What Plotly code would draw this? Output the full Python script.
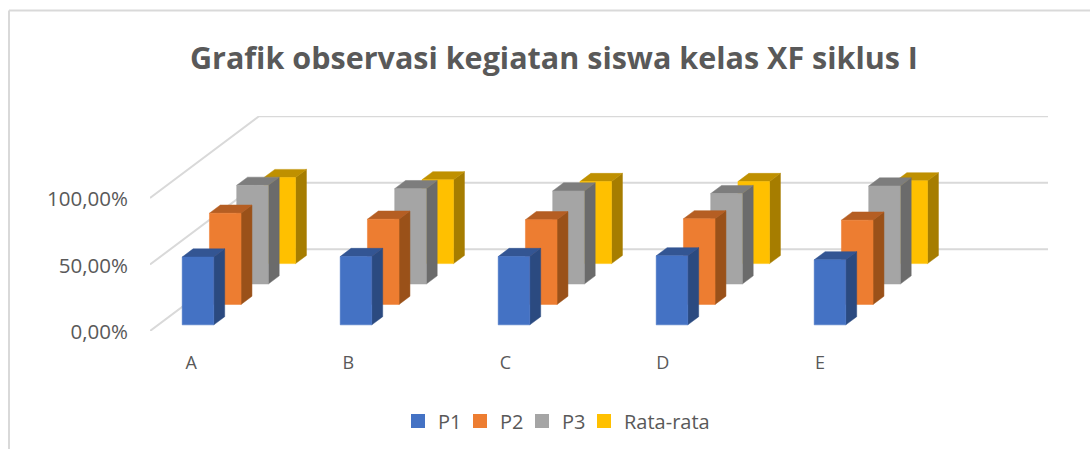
import plotly.graph_objects as go

categories = ["A", "B", "C", "D", "E"]
p1 = [51.0, 51.4, 51.4, 51.9, 48.9]
p2 = [68.6, 64.1, 63.7, 64.4, 63.4]
p3 = [74.2, 71.7, 70.0, 68.0, 73.7]
rata = [64.7, 63.0, 61.7, 61.7, 62.2]
series_names = ["P1", "P2", "P3", "Rata-rata"]
legend_widths = [17, 17, 17, 95]
y_ticks = [0, 50, 100]
y_labels = ["0,00%", "50,00%", "100,00%"]

series_values = [p1, p2, p3, rata]
front = ["#4472C4", "#ED7D31", "#A5A5A5", "#FFC000"]
side = ["#2B4A80", "#9A5119", "#6B6B6B", "#A67D00"]
top = ["#335593", "#B55E23", "#7D7D7D", "#BF9000"]

# oblique projection: depth 0..1 shifts x (category units) and y (percent units)
DX, DY = 109 / 158, 81.7 / 1.33
BAR_W, BIN_D, BAR_D, BAR_X0 = 0.2, 0.25, 0.1, 0.152
X_END = 898 / 158


def proj(x, v, d):
    return x + DX * d, v + DY * d


def poly(corners):
    xs, ys = [], []
    for x, v, d in corners:
        px, py = proj(x, v, d)
        xs.append(px)
        ys.append(py)
    xs.append(xs[0])
    ys.append(ys[0])
    return xs + [None], ys + [None]


fig = go.Figure()

gx, gy = [], []
for t in y_ticks:
    px, py = proj(0, t, 0)
    bx, by = proj(0, t, 1)
    gx += [px, bx, X_END, None]
    gy += [py, by, by, None]
fig.add_trace(go.Scatter(x=gx, y=gy, mode="lines", line=dict(color="#D9D9D9", width=2),
                         showlegend=False, hoverinfo="skip", cliponaxis=False))

for s in reversed(range(4)):
    d0 = s * BIN_D + (BIN_D - BAR_D) / 2
    d1 = d0 + BAR_D
    faces = {"f": ([], []), "s": ([], []), "t": ([], [])}
    for c, v in enumerate(series_values[s]):
        x0 = c + BAR_X0
        x1 = x0 + BAR_W
        for key, corners in (
            ("f", [(x0, 0, d0), (x1, 0, d0), (x1, v, d0), (x0, v, d0)]),
            ("s", [(x1, 0, d0), (x1, 0, d1), (x1, v, d1), (x1, v, d0)]),
            ("t", [(x0, v, d0), (x1, v, d0), (x1, v, d1), (x0, v, d1)]),
        ):
            xs, ys = poly(corners)
            faces[key][0].extend(xs)
            faces[key][1].extend(ys)
    for key, col in (("s", side[s]), ("t", top[s]), ("f", front[s])):
        fig.add_trace(go.Scatter(x=faces[key][0], y=faces[key][1], mode="lines", fill="toself",
                                 fillcolor=col, line=dict(color=col, width=0.5),
                                 showlegend=False, hoverinfo="skip"))

for s, name in enumerate(series_names):
    fig.add_trace(go.Scatter(x=[None], y=[None], mode="markers", name=name,
                             legendwidth=legend_widths[s],
                             marker=dict(symbol="square", size=14, color=front[s])))

FONT = "Open Sans"
fig.update_layout(
    width=1090, height=449, autosize=False,
    margin=dict(l=150, r=42, t=116, b=118, pad=0),
    paper_bgcolor="white", plot_bgcolor="white",
    font=dict(family=FONT, color="#595959", size=18),
    title=dict(text="<b>Grafik observasi kegiatan siswa kelas XF siklus I</b>",
               font=dict(family=FONT, size=30.5, color="#595959"),
               x=554 / 1090, xanchor="center", y=1 - 58 / 449, yanchor="middle"),
    xaxis=dict(range=[0, X_END], tickvals=[0.26 + i * 0.995 for i in range(5)], ticktext=categories,
               showgrid=False, zeroline=False, showline=False, ticks="outside", ticklen=15,
               tickcolor="rgba(0,0,0,0)", tickfont=dict(size=18), fixedrange=True),
    yaxis=dict(range=[0, 215 / 1.33], tickvals=y_ticks, ticktext=y_labels,
               showgrid=False, zeroline=False, showline=False, ticks="outside", ticklen=17,
               ticklabelshift=1,
               tickcolor="rgba(0,0,0,0)", tickfont=dict(size=20.5), fixedrange=True),
    legend=dict(orientation="h", x=398 / 1090, xanchor="left", xref="container",
                y=1 - 421 / 449, yanchor="middle", yref="container",
                font=dict(size=20), itemsizing="trace", traceorder="normal",
                tracegroupgap=0, bgcolor="rgba(0,0,0,0)"),
    shapes=[
        dict(type="line", xref="paper", yref="paper", x0=-141 / 898, x1=940 / 898, y0=(449 - 118 - 10.5) / 215, y1=(449 - 118 - 10.5) / 215,
             line=dict(color="#D9D9D9", width=2)),
        dict(type="line", xref="paper", yref="paper", x0=-141 / 898, x1=-141 / 898, y0=(449 - 118 - 10.5) / 215, y1=-118 / 215,
             line=dict(color="#D9D9D9", width=2)),
    ],
)
fig.write_html("out.html", config=dict(displayModeBar=False),
               post_script="document.body.style.margin='0';document.body.style.overflow='hidden';")
